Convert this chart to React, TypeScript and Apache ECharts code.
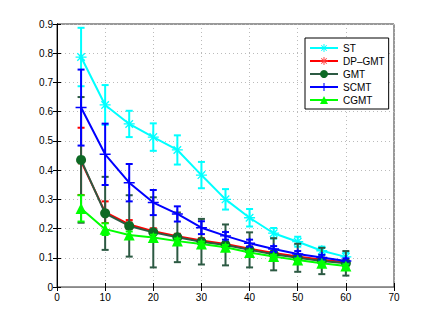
import React, { useEffect, useRef } from "react";
import * as echarts from "echarts";

const xs = [5, 10, 15, 20, 25, 30, 35, 40, 45, 50, 55, 60];

const stMean = [0.787, 0.623, 0.558, 0.513, 0.469, 0.383, 0.3, 0.237, 0.184, 0.155, 0.124, 0.103];
const stErr = [0.1, 0.068, 0.045, 0.047, 0.05, 0.045, 0.035, 0.03, 0.018, 0.017, 0.014, 0.014];

const dpMean = [0.43, 0.256, 0.214, 0.191, 0.174, 0.159, 0.147, 0.131, 0.116, 0.104, 0.093, 0.085];
const dpErr = [0.115, 0.037, 0.015, 0.01, 0.008, 0.008, 0.007, 0.006, 0.006, 0.005, 0.005, 0.005];

const gmtMean = [0.435, 0.252, 0.209, 0.187, 0.17, 0.155, 0.144, 0.127, 0.112, 0.1, 0.089, 0.081];
const gmtErr = [0.215, 0.125, 0.105, 0.12, 0.085, 0.078, 0.07, 0.06, 0.055, 0.048, 0.045, 0.042];

const scMean = [0.614, 0.454, 0.357, 0.289, 0.25, 0.203, 0.175, 0.15, 0.13, 0.113, 0.101, 0.089];
const scErr = [0.13, 0.105, 0.064, 0.043, 0.026, 0.022, 0.013, 0.012, 0.01, 0.01, 0.009, 0.009];

const cgMean = [0.269, 0.198, 0.178, 0.169, 0.157, 0.147, 0.136, 0.118, 0.104, 0.092, 0.081, 0.072];
const cgErr = [0.045, 0.02, 0.012, 0.01, 0.009, 0.008, 0.008, 0.007, 0.006, 0.006, 0.006, 0.006];

const seriesNames = ["ST", "DP\u2013GMT", "GMT", "SCMT", "CGMT"];
const xTicks = [0, 10, 20, 30, 40, 50, 60, 70];

const asterisk =
  "path://M-0.7,-6 L0.7,-6 L0.7,6 L-0.7,6 Z M-6,-0.7 L6,-0.7 L6,0.7 L-6,0.7 Z M-4.6,-3.6 L-3.6,-4.6 L4.6,3.6 L3.6,4.6 Z M3.6,-4.6 L4.6,-3.6 L-3.6,4.6 L-4.6,3.6 Z";
const plus = "path://M-0.8,-6 L0.8,-6 L0.8,6 L-0.8,6 Z M-6,-0.8 L6,-0.8 L6,0.8 L-6,0.8 Z";

function errSeries(name: string, mean: number[], err: number[], color: string, z: number) {
  const data = xs.map((x, i) => [x, mean[i] - err[i], mean[i] + err[i]]);
  return {
    type: "custom",
    name: name + "-err",
    z,
    data,
    encode: { x: 0, y: [1, 2] },
    renderItem: (params: any, api: any) => {
      const x = api.value(0);
      const lo = api.coord([x, api.value(1)]);
      const hi = api.coord([x, api.value(2)]);
      const w = 3.5;
      const style = { stroke: color, lineWidth: 2, fill: "none" };
      return {
        type: "group",
        children: [
          { type: "line", shape: { x1: lo[0], y1: lo[1], x2: hi[0], y2: hi[1] }, style },
          { type: "line", shape: { x1: lo[0] - w, y1: lo[1], x2: lo[0] + w, y2: lo[1] }, style },
          { type: "line", shape: { x1: hi[0] - w, y1: hi[1], x2: hi[0] + w, y2: hi[1] }, style },
        ],
      };
    },
  };
}

function lineSeries(name: string, mean: number[], color: string, symbol: string, size: number, z: number, fill?: string) {
  return {
    type: "line",
    name,
    z,
    data: xs.map((x, i) => [x, mean[i]]),
    symbol,
    symbolSize: size,
    lineStyle: { color, width: 2 },
    itemStyle: { color: fill || color, borderColor: color, borderWidth: 0 },
  };
}

export default function App() {
  const ref = useRef<HTMLDivElement>(null);
  useEffect(() => {
    if (!ref.current) return;
    const chart = echarts.init(ref.current, null, { renderer: "svg" });
    const font = "Liberation Sans, Arial, Helvetica, sans-serif";
    const gmtLine = "#2c5a43";
    chart.setOption({
      animation: false,
      backgroundColor: "#fff",
      textStyle: { fontFamily: font },
      grid: { left: 57, right: 42, top: 24, bottom: 36, show: true, borderColor: "#333", borderWidth: 1 },
      legend: {
        data: seriesNames,
        orient: "vertical",
        left: 305,
        top: 38,
        padding: [5, 4, 4, 4],
        itemWidth: 28,
        itemHeight: 10,
        itemGap: 3,
        backgroundColor: "#fff",
        borderColor: "#000",
        borderWidth: 1,
        borderRadius: 0,
        textStyle: { fontSize: 10, color: "#000", fontFamily: font },
      },
      xAxis: [
        {
          type: "value",
          min: 0,
          max: 70,
          interval: 10,
          axisLine: { show: true, lineStyle: { color: "#000" } },
          axisTick: { show: true, inside: true, length: 4, lineStyle: { color: "#000" } },
          axisLabel: { color: "#000", fontSize: 10, margin: 5, formatter: (v: number) => (xTicks.includes(v) ? String(v) : "") },
          splitLine: { show: true, lineStyle: { color: "#bbb", type: [1, 3], width: 1 } },
        },
        {
          type: "value",
          position: "top",
          min: 0,
          max: 70,
          interval: 10,
          axisLine: { show: true, lineStyle: { color: "#888" } },
          axisTick: { show: true, inside: true, length: 4, lineStyle: { color: "#000" } },
          axisLabel: { show: false },
          splitLine: { show: false },
        },
      ],
      yAxis: [
        {
          type: "value",
          min: 0,
          max: 0.9,
          interval: 0.1,
          axisLine: { show: true, lineStyle: { color: "#000" } },
          axisTick: { show: true, inside: true, length: 4, lineStyle: { color: "#000" } },
          axisLabel: { color: "#000", fontSize: 10, margin: 4 },
          splitLine: { show: true, lineStyle: { color: "#bbb", type: [1, 3], width: 1 } },
        },
        {
          type: "value",
          position: "right",
          min: 0,
          max: 0.9,
          interval: 0.1,
          axisLine: { show: true, lineStyle: { color: "#000" } },
          axisTick: { show: true, inside: true, length: 4, lineStyle: { color: "#000" } },
          axisLabel: { show: false },
          splitLine: { show: false },
        },
      ],
      series: [
        errSeries("ST", stMean, stErr, "#00ffff", 2),
        lineSeries("ST", stMean, "#00ffff", asterisk, 11, 3),
        errSeries("DP", dpMean, dpErr, "#ff0000", 4),
        lineSeries("DP\u2013GMT", dpMean, "#ff0000", asterisk, 9, 5, "#ff4040"),
        errSeries("GMT", gmtMean, gmtErr, gmtLine, 6),
        lineSeries("GMT", gmtMean, gmtLine, "circle", 10, 7, "#0d6a24"),
        errSeries("SCMT", scMean, scErr, "#0000ff", 8),
        lineSeries("SCMT", scMean, "#0000ff", plus, 11, 9),
        errSeries("CGMT", cgMean, cgErr, "#00ff00", 10),
        lineSeries("CGMT", cgMean, "#00ff00", "triangle", 11, 11),
      ],
    });
    return () => chart.dispose();
  }, []);
  return <div ref={ref} style={{ width: 436, height: 323, position: "absolute", left: 0, top: 0 }} />;
}
